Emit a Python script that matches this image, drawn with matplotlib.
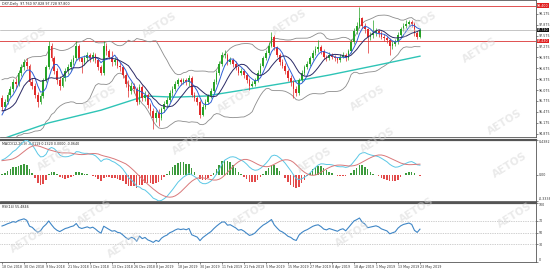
import numpy as np
import pandas as pd
import matplotlib
matplotlib.use("Agg")
import matplotlib.pyplot as plt
import matplotlib.transforms as mtransforms

# ---------------- data ----------------
# closes before the first visible bar (warm-up for indicators)
pre_closes = [95.1, 95.6, 95.2, 94.8, 94.7, 94.6, 95.0, 95.1, 95.2, 95.4,
              95.2, 95.0, 95.4, 95.2, 95.2, 94.8, 94.5, 94.9, 94.5, 94.5,
              94.5, 94.1, 93.9, 94.2, 94.1, 94.2, 94.8, 95.1, 95.0, 95.5,
              95.8, 95.7, 95.6, 95.7, 95.7, 95.4, 95.0, 95.2, 95.3, 95.85]

closes = [95.60, 95.75, 95.95, 96.10, 96.30, 96.25, 96.55, 96.70, 96.85, 96.75,
          96.30, 96.20, 95.95, 95.75, 95.90, 96.35, 96.70, 97.30, 96.95, 96.60,
          96.35, 96.20, 96.40, 96.60, 96.70, 96.85, 96.95, 97.30, 96.95, 96.85,
          96.95, 97.05, 96.95, 97.05, 96.90, 96.70, 96.55, 97.30, 97.15, 97.00,
          96.85, 96.90, 96.75, 96.70, 96.50, 96.25, 96.05, 96.20, 96.10, 95.75,
          96.15, 95.85, 95.95, 95.65, 95.50, 95.30, 95.45, 95.30, 95.55, 95.70,
          95.80, 96.00, 96.10, 96.25, 96.35, 96.30, 96.35, 96.30, 96.40, 95.95,
          95.85, 95.75, 95.40, 95.60, 95.75, 95.90, 96.05, 96.30, 96.55, 96.80,
          97.05, 97.05, 96.85, 96.90, 96.80, 96.70, 96.55, 96.60, 96.50, 96.35,
          96.20, 96.25, 96.35, 96.55, 96.75, 96.95, 97.10, 97.30, 97.55, 97.25,
          97.05, 96.85, 96.75, 96.60, 96.40, 96.30, 96.10, 96.00, 96.35, 96.55,
          96.70, 96.80, 96.95, 97.10, 97.20, 97.25, 97.15, 97.00, 96.95, 97.05,
          97.00, 96.95, 96.90, 97.00, 97.05, 96.95, 97.15, 97.40, 97.70, 97.85,
          98.05, 97.85, 97.75, 97.55, 97.60, 97.65, 97.70, 97.65, 97.55, 97.50,
          97.45, 97.30, 97.35, 97.40, 97.60, 97.75, 97.85, 97.90, 97.95, 97.90,
          97.65, 97.55, 97.73]

highs = [95.95, 95.82, 96.02, 96.18, 96.38, 96.42, 96.62, 96.80, 96.92, 96.95,
         96.80, 96.42, 96.28, 96.02, 96.00, 96.42, 96.78, 97.43, 97.38, 97.02,
         96.68, 96.45, 96.48, 96.68, 96.80, 96.92, 97.05, 97.43, 97.35, 97.00,
         97.05, 97.12, 97.10, 97.12, 97.10, 96.95, 96.78, 97.43, 97.38, 97.22,
         97.15, 97.00, 96.98, 96.85, 96.75, 96.58, 96.35, 96.30, 96.28, 96.15,
         96.25, 96.22, 96.05, 96.00, 95.72, 95.58, 95.52, 95.55, 95.62, 95.78,
         95.88, 96.08, 96.18, 96.32, 96.42, 96.40, 96.42, 96.40, 96.48, 96.45,
         96.02, 95.92, 95.80, 95.68, 95.82, 95.98, 96.12, 96.38, 96.62, 96.88,
         97.12, 97.18, 97.10, 97.00, 96.95, 96.88, 96.75, 96.68, 96.65, 96.55,
         96.40, 96.32, 96.42, 96.62, 96.82, 97.02, 97.18, 97.40, 97.68, 97.60,
         97.30, 97.10, 96.92, 96.82, 96.65, 96.48, 96.35, 96.18, 96.42, 96.62,
         96.78, 96.88, 97.02, 97.18, 97.28, 97.46, 97.32, 97.20, 97.05, 97.12,
         97.10, 97.05, 97.00, 97.08, 97.12, 97.10, 97.22, 97.48, 97.78, 97.95,
         98.37, 98.10, 97.92, 97.80, 97.68, 98.00, 97.78, 97.75, 97.70, 97.62,
         97.58, 97.50, 97.42, 97.48, 97.68, 97.82, 97.92, 98.00, 98.02, 98.00,
         97.95, 97.70, 97.80]

lows = [95.50, 95.52, 95.70, 95.88, 96.02, 96.12, 96.20, 96.45, 96.62, 96.65,
        96.22, 96.10, 95.85, 95.60, 95.68, 95.85, 96.30, 96.65, 96.88, 96.52,
        96.25, 96.08, 96.15, 96.32, 96.52, 96.62, 96.78, 96.90, 96.88, 96.55,
        96.78, 96.88, 96.85, 96.88, 96.82, 96.62, 96.48, 96.50, 97.05, 96.92,
        96.75, 96.78, 96.68, 96.60, 96.40, 96.15, 95.88, 95.98, 96.00, 95.65,
        95.70, 95.78, 95.78, 95.58, 95.40, 95.00, 95.20, 95.08, 95.25, 95.48,
        95.62, 95.75, 95.92, 96.05, 96.18, 96.22, 96.25, 96.22, 96.20, 95.88,
        95.78, 95.65, 95.30, 95.35, 95.55, 95.70, 95.85, 96.00, 96.25, 96.50,
        96.75, 96.95, 96.78, 96.80, 96.72, 96.62, 96.48, 96.50, 96.42, 96.28,
        96.08, 96.15, 96.20, 96.30, 96.50, 96.70, 96.90, 97.05, 97.25, 97.18,
        96.98, 96.78, 96.68, 96.52, 96.32, 96.20, 95.85, 95.92, 95.95, 96.30,
        96.50, 96.65, 96.75, 96.90, 97.05, 97.12, 97.08, 96.92, 96.88, 96.90,
        96.92, 96.88, 96.82, 96.85, 96.95, 96.88, 96.90, 97.10, 97.35, 97.62,
        97.80, 97.78, 97.65, 97.10, 97.45, 97.52, 97.58, 97.55, 97.48, 97.42,
        97.38, 97.04, 97.22, 97.28, 97.35, 97.55, 97.70, 97.80, 97.85, 97.82,
        97.58, 97.48, 97.50]

# long moving average (teal) at a few bars
teal_bars = [0, 4, 17, 36, 52, 63, 74, 88, 103, 119, 137, 152]
teal_vals = [94.72, 94.83, 95.17, 95.52, 95.91, 95.88, 95.91, 96.08, 96.27, 96.49, 96.77, 97.01]

date_labels = ["18 Oct 2018", "30 Oct 2018", "9 Nov 2018", "21 Nov 2018", "3 Dec 2018",
               "13 Dec 2018", "26 Dec 2018", "8 Jan 2019", "18 Jan 2019", "30 Jan 2019",
               "11 Feb 2019", "21 Feb 2019", "5 Mar 2019", "15 Mar 2019", "27 Mar 2019",
               "8 Apr 2019", "18 Apr 2019", "1 May 2019", "13 May 2019", "23 May 2019"]

resistance = 98.40
support = 97.43
last_price = 97.73

title_text = "DXY,Daily  97.760 97.828 97.728 97.800"
macd_text = "MACD(12,26,9) -0.0119 0.1320 0.0000 -0.0640"
rsi_text = "RSI(14) 55.4846"

# ---------------- indicators ----------------
n_pre = len(pre_closes)
allc = pd.Series(pre_closes + closes)
sma5 = allc.rolling(5).mean()
sma10 = allc.rolling(10).mean()
mid = allc.rolling(20).mean()
sd = allc.rolling(20).std(ddof=0)
upper = mid + 2 * sd
lower = mid - 2 * sd
ema12 = allc.ewm(span=12, adjust=False).mean()
ema26 = allc.ewm(span=26, adjust=False).mean()
macd = ema12 - ema26
signal = macd.rolling(9).mean()
hist = macd - signal
delta = allc.diff()
gain = delta.clip(lower=0).ewm(alpha=1 / 14, adjust=False).mean()
loss = (-delta.clip(upper=0)).ewm(alpha=1 / 14, adjust=False).mean()
rsi = 100 - 100 / (1 + gain / loss)

def vis(s):
    return s.iloc[n_pre:].to_numpy()

n = len(closes)
x = np.arange(n)
c = np.array(closes)
o = np.array([pre_closes[-1]] + closes[:-1])
h = np.array(highs)
l = np.array(lows)

# ---------------- figure ----------------
W, H = 550, 269
fig = plt.figure(figsize=(W / 100, H / 100), dpi=100)
fig.patch.set_facecolor("white")

def rect(top, bottom, right=536):
    return [0, 1 - bottom / H, right / W, (bottom - top) / H]

ax1 = fig.add_axes(rect(0, 137))
ax2 = fig.add_axes(rect(140, 201), sharex=ax1)
ax3 = fig.add_axes(rect(203, 262), sharex=ax1)

FS = 2.3
for ax in (ax1, ax2, ax3):
    ax.set_facecolor("white")
    ax.yaxis.tick_right()
    ax.tick_params(axis="y", labelsize=FS, length=1.2, width=0.4, pad=0.6, colors="#333333")
    ax.tick_params(axis="x", labelsize=FS, length=1.2, width=0.4, pad=0.8, colors="#333333")
    ax.spines["left"].set_visible(False)
    for sp in ("right", "top", "bottom"):
        ax.spines[sp].set_color("#555555")
        ax.spines[sp].set_linewidth(0.6)

ax2.spines["top"].set_linewidth(1.6)
ax3.spines["top"].set_linewidth(1.6)
ax1.tick_params(axis="x", bottom=False, labelbottom=False)
ax2.tick_params(axis="x", bottom=False, labelbottom=False)

ax1.set_xlim(-0.73, 194.2)

# ---- main panel ----
up = c >= o
col = np.where(up, "#27a327", "#e02b2b")
ax1.vlines(x, l, h, colors=col, linewidth=0.5, zorder=3)
body_b = np.minimum(o, c)
body_h = np.maximum(np.abs(c - o), 0.012)
ax1.bar(x, body_h, bottom=body_b, width=0.62, color=col, linewidth=0, zorder=4)

ax1.plot(x, vis(upper), color="#8c8c8c", lw=0.6, zorder=2)
ax1.plot(x, vis(lower), color="#8c8c8c", lw=0.6, zorder=2)
ax1.plot(x, vis(sma5), color="#2f5fd6", lw=0.7, zorder=5)
ax1.plot(x, vis(sma10), color="#2b2a66", lw=0.7, zorder=5)
ax1.plot(teal_bars, teal_vals, color="#2ec4b6", lw=1.0, zorder=2)

ax1.axhline(resistance, color="#e05050", lw=0.7, zorder=1)
ax1.axhline(support, color="#e05050", lw=0.7, zorder=1)
ax1.axhline(last_price, color="#9a9a9a", lw=0.4, zorder=1)

ax1.set_ylim(94.78, 98.56)
ticks = [94.875 + 0.3 * k for k in range(12)]
ax1.set_yticks(ticks)
ax1.set_yticklabels([f"{t:.3f}" for t in ticks])

blend1 = mtransforms.blended_transform_factory(ax1.transAxes, ax1.transData)
for val, fc in ((resistance, "#e02020"), (support, "#e02020"), (last_price, "#111111")):
    ax1.text(1.002, val, f"{val:.3f}", transform=blend1, fontsize=FS, color="white",
             ha="left", va="center", zorder=10,
             bbox=dict(boxstyle="square,pad=0.12", fc=fc, ec="none"), clip_on=False)

ax1.text(0.004, 0.985, title_text, transform=ax1.transAxes, fontsize=FS,
         color="#222222", ha="left", va="top")

# ---- MACD panel ----
hv = vis(hist)
mv = vis(macd)
sv = vis(signal)
hcol = np.where(hv >= 0, "#3c9a3c", "#e24a4a")
ax2.bar(x, hv, width=0.55, color=hcol, linewidth=0, zorder=3)
ax2.plot(x, mv, color="#5bc8e6", lw=0.7, zorder=4)
ax2.plot(x, sv, color="#d9787a", lw=0.7, zorder=4)
lo = min(mv.min(), sv.min(), hv.min())
hi = max(mv.max(), sv.max(), hv.max())
ax2.set_ylim(lo, hi)
ax2.set_yticks([lo, 0.0, hi])
ax2.set_yticklabels([f"{lo:.4f}", "0.00", f"{hi:.4f}"])
ylabs = ax2.get_yticklabels()
ylabs[0].set_va("bottom")
ylabs[2].set_va("top")
ax2.text(0.004, 0.97, macd_text, transform=ax2.transAxes, fontsize=FS,
         color="#222222", ha="left", va="top")

# ---- RSI panel ----
ax3.plot(x, vis(rsi), color="#3f86c6", lw=0.8, zorder=3)
for lvl in (70, 50, 30):
    ax3.axhline(lvl, color="#a0a0a0", lw=0.5, ls=(0, (1, 1.5)), zorder=1)
ax3.set_ylim(0, 100)
ax3.set_yticks([0, 30, 50, 70, 100])
ax3.set_yticklabels(["0", "30", "50", "70", "100"])
rl = ax3.get_yticklabels()
rl[0].set_va("bottom")
rl[4].set_va("top")
ax3.text(0.004, 0.97, rsi_text, transform=ax3.transAxes, fontsize=FS,
         color="#222222", ha="left", va="top")

pos = [8 * k for k in range(len(date_labels))]
ax3.set_xticks(pos)
ax3.set_xticklabels(date_labels, ha="left")

# ---- watermarks ----
marks = [(30, 40), (160, 25), (290, 22), (420, 24), (480, 50), (100, 98), (235, 100),
         (368, 98), (505, 122), (55, 158), (190, 142), (315, 160), (378, 140), (510, 165),
         (95, 212), (250, 214), (417, 210), (125, 245), (353, 234), (28, 240), (515, 215)]
for (px, py) in marks:
    fig.text(px / W, 1 - py / H, "AETOS", fontsize=7.5, fontweight="bold", color="#d6d6d6",
             alpha=0.5, rotation=32, ha="center", va="center", zorder=20)

fig.savefig("out.png", dpi=100, facecolor="white")
